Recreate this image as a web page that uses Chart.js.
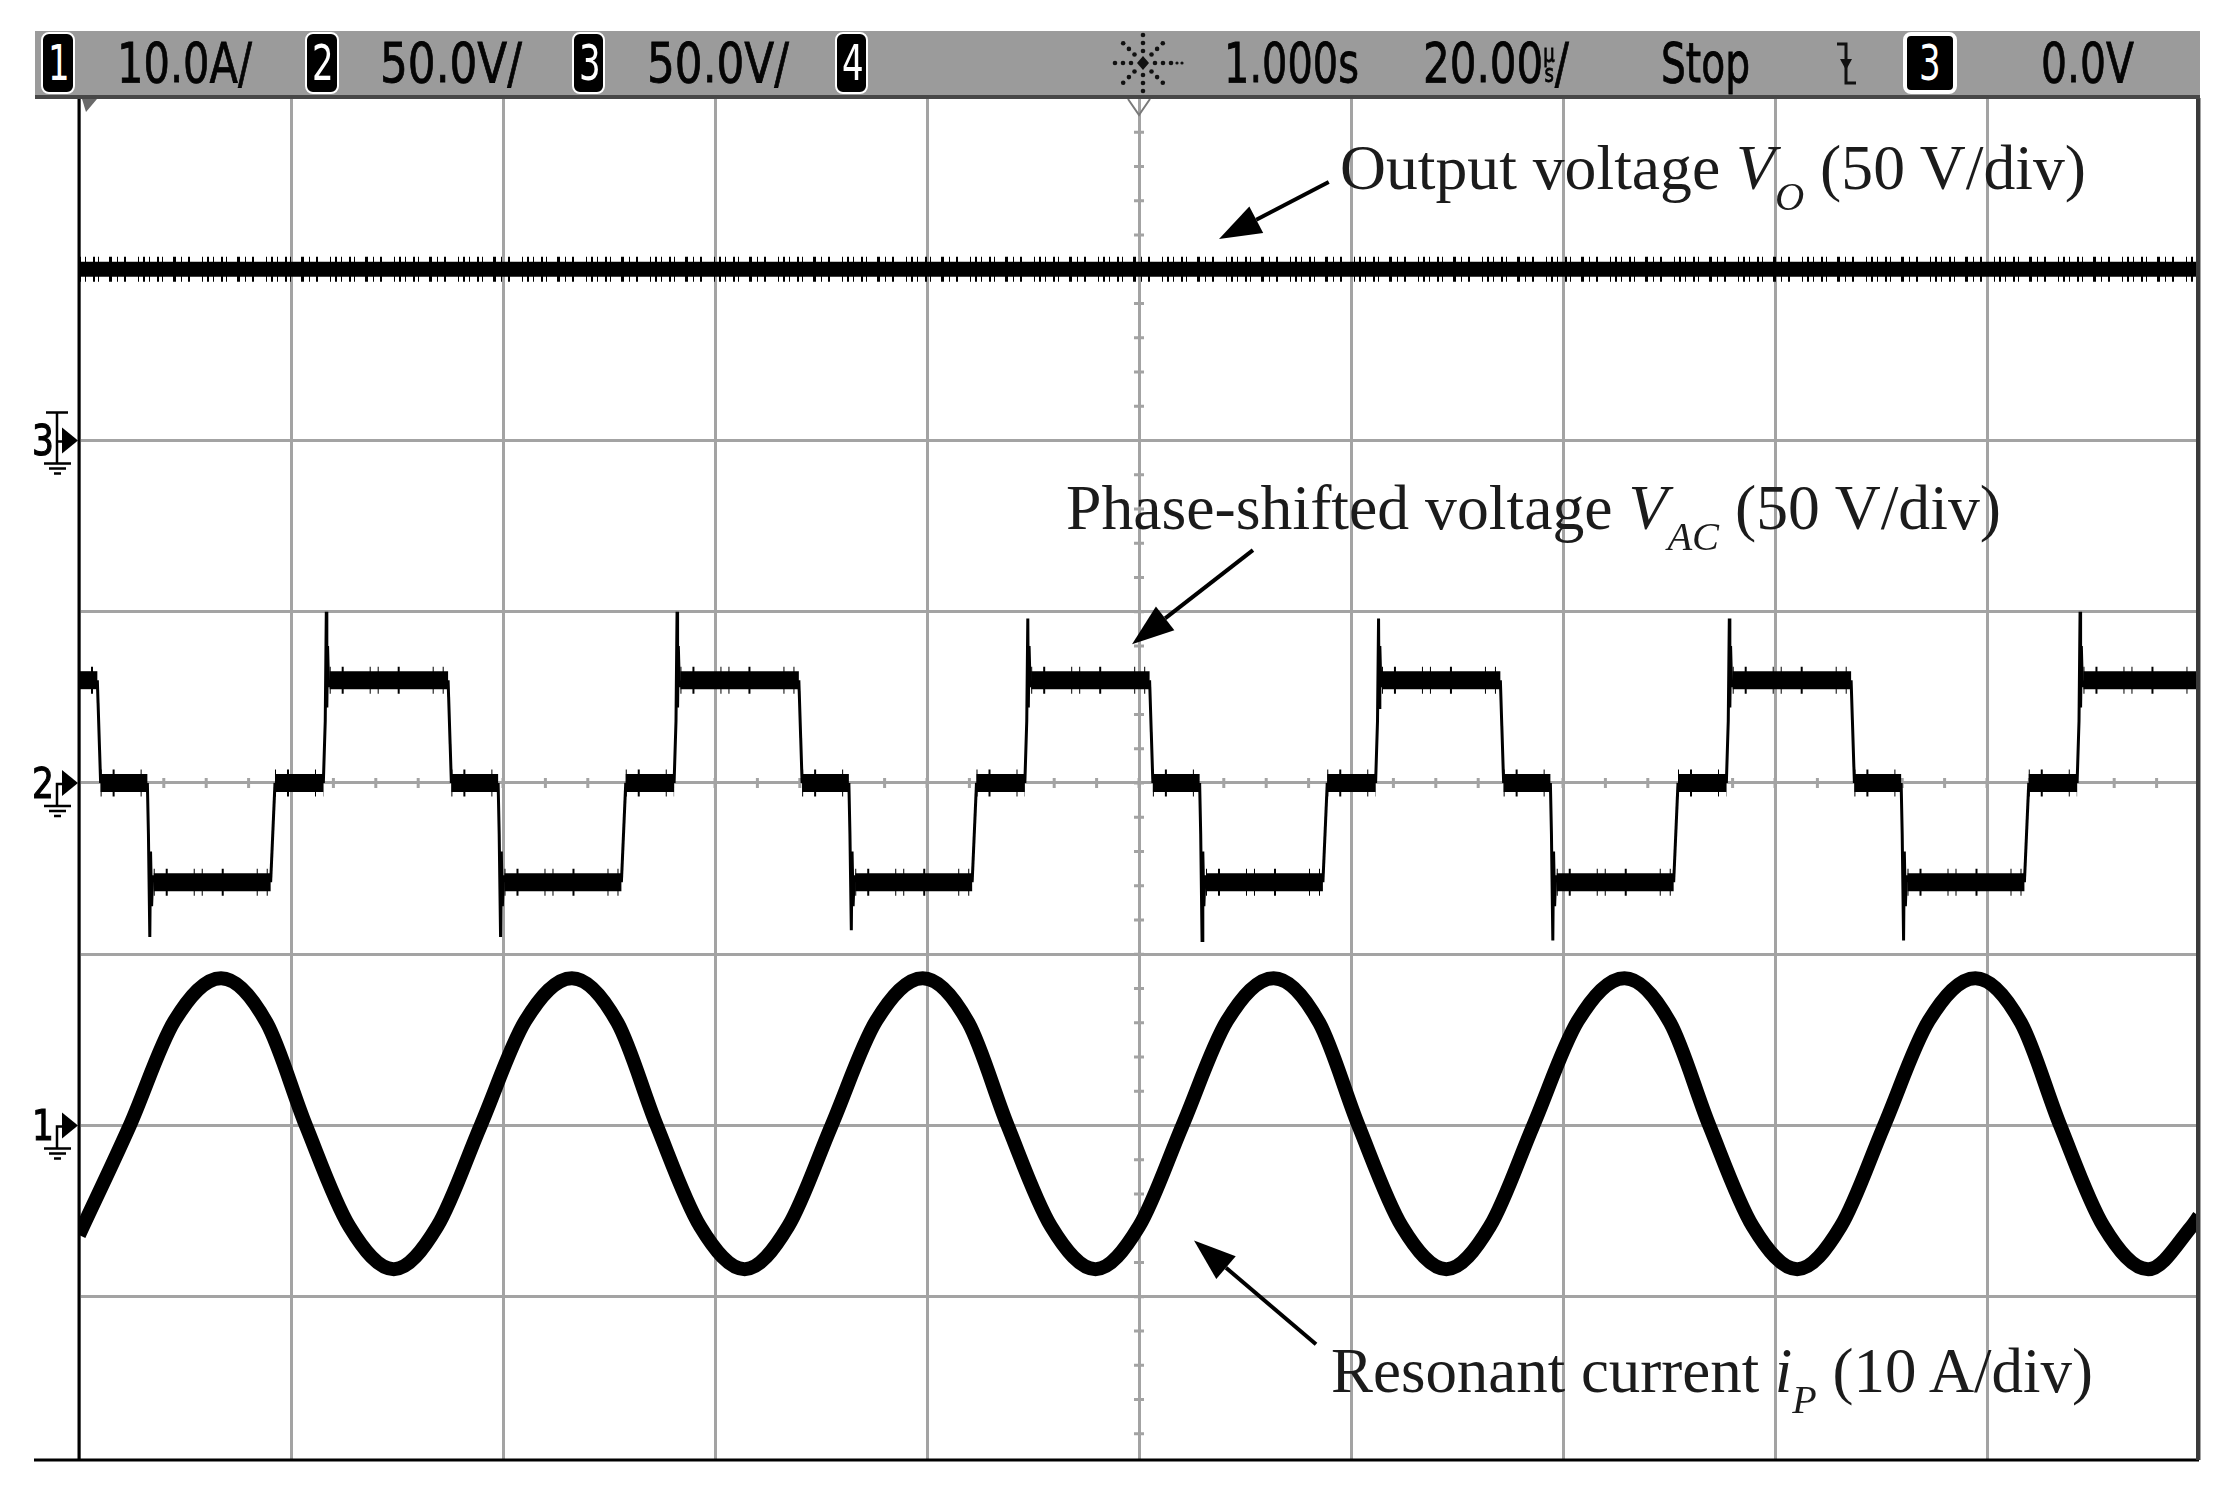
<!DOCTYPE html>
<html>
<head>
<meta charset="utf-8">
<title>Scope capture</title>
<script src="https://cdn.jsdelivr.net/npm/chart.js@4.4.1/dist/chart.umd.min.js"></script>
<style>
  html,body{margin:0;padding:0;background:#fff;}
  #wrap{position:relative;width:2228px;height:1495px;overflow:hidden;background:#fff;}
  #scope{position:absolute;left:0;top:0;}
  #hdr{position:absolute;left:35px;top:31px;width:2165px;height:64px;background:#9b9b9b;border-bottom:4px solid #474747;}
  .ht{position:absolute;font-family:"DejaVu Sans",sans-serif;font-size:56px;line-height:1;color:#050505;white-space:nowrap;transform-origin:0 0;-webkit-text-stroke:0.8px #000;}
  .ht .us{display:inline-block;font-size:24px;line-height:20px;text-align:center;vertical-align:baseline;}
  .ht .us span{display:block;}
  .bx{position:absolute;top:1px;height:58px;background:#000;border:2px solid #fff;border-radius:8px;color:#fff;font-family:"DejaVu Sans",sans-serif;font-size:50px;line-height:58px;text-align:center;overflow:hidden;}
  .bx span{display:inline-block;transform:scaleX(0.68);}
  .note{position:absolute;font-family:"Liberation Serif","Times New Roman",serif;font-size:63px;line-height:1;color:#1b1b1b;white-space:nowrap;transform-origin:0 0;}
  .note i{font-style:italic;}
  .note .sb{font-style:italic;font-size:40px;position:relative;top:21px;}
</style>
</head>
<body>
<div id="wrap">
  <canvas id="scope" width="2228" height="1495"></canvas>
  <div id="hdr"></div>
</div>
<script>
// ---- data (time in us) ----
// Ch3: output voltage Vo (V)
const voTime = [0, 200];
const voVolt = [50, 50];

// Ch2: phase-shifted voltage Vac (V)
const vacTime = [0,
  1.73, 2.04, 6.45, 6.55, 6.68, 6.75, 6.85, 6.95, 7.05, 18.08, 18.49, 23.05, 23.23, 23.33, 23.38, 23.45, 23.55, 23.65,
  34.82, 35.13, 39.54, 39.64, 39.77, 39.84, 39.94, 40.04, 40.14, 51.17, 51.58, 56.14, 56.32, 56.42, 56.47, 56.54, 56.64, 56.74,
  67.91, 68.22, 72.63, 72.73, 72.86, 72.93, 73.03, 73.13, 73.23, 84.26, 84.67, 89.23, 89.41, 89.51, 89.56, 89.63, 89.73, 89.83,
  101.00, 101.31, 105.72, 105.82, 105.95, 106.02, 106.12, 106.22, 106.32, 117.35, 117.76, 122.32, 122.50, 122.60, 122.65, 122.72, 122.82, 122.92,
  134.09, 134.40, 138.81, 138.91, 139.04, 139.11, 139.21, 139.31, 139.41, 150.44, 150.85, 155.41, 155.59, 155.69, 155.74, 155.81, 155.91, 156.01,
  167.18, 167.49, 171.90, 172.00, 172.13, 172.20, 172.30, 172.40, 172.50, 183.53, 183.94, 188.50, 188.68, 188.78, 188.83, 188.90, 189.00, 189.10,
  200];
const vacVolt = [30,
  30, 0, 0, -15, -45, -20, -36, -27, -29, -29, 0, 0, 18, 50, 22, 40, 28, 30,
  30, 0, 0, -15, -45, -20, -36, -27, -29, -29, 0, 0, 18, 50, 22, 40, 28, 30,
  30, 0, 0, -15, -43, -20, -36, -27, -29, -29, 0, 0, 18, 48, 22, 40, 28, 30,
  30, 0, 0, -15, -46, -20, -36, -27, -29, -29, 0, 0, 18, 48, 22, 40, 28, 30,
  30, 0, 0, -15, -46, -20, -36, -27, -29, -29, 0, 0, 18, 48, 22, 40, 28, 30,
  30, 0, 0, -15, -46, -20, -36, -27, -29, -29, 0, 0, 18, 50, 22, 40, 28, 30,
  30];

// Ch1: resonant current ip (A)
const ipTime = [0,
  4.8, 9.0, 13.4, 17.7, 21.4, 25.5, 29.7, 33.8,
  37.9, 42.1, 46.5, 50.8, 54.5, 58.6, 62.8, 66.9,
  71.0, 75.2, 79.6, 83.9, 87.6, 91.7, 95.9, 100.0,
  104.1, 108.3, 112.7, 117.0, 120.7, 124.8, 129.0, 133.1,
  137.2, 141.4, 145.8, 150.1, 153.8, 157.9, 162.1, 166.2,
  170.3, 174.5, 178.9, 183.2, 186.9, 191.0, 195.2, 199.3,
  200];
const ipAmp = [-6.4,
  0, 6.1, 8.6, 6.0, 0, -5.9, -8.4, -5.9,
  0, 6.1, 8.6, 6.0, 0, -5.9, -8.4, -5.9,
  0, 6.1, 8.6, 6.0, 0, -5.9, -8.4, -5.9,
  0, 6.1, 8.6, 6.0, 0, -5.9, -8.4, -5.9,
  0, 6.1, 8.6, 6.0, 0, -5.9, -8.4, -5.9,
  0, 6.1, 8.6, 6.0, 0, -5.9, -8.4, -5.9,
  -5.3];

// graticule: 20 us/div, 50 V/div
const gridTime = [0, 20, 40, 60, 80, 100, 120, 140, 160, 180, 200];
const gridVolt = [-150, -100, -50, 0, 50, 100, 150];

// ---- look ----
const GRID = '#a3a3a3';
const INK = '#000';
const CLEAR = 'rgba(0,0,0,0)';

function pts(xs, ys){ return xs.map((x,i)=>({x:x, y:ys[i]})); }
const flat = c => c.p0.parsed.y === c.p1.parsed.y;

// annotations in (us, ch2 volts)
const notes = [
  {html:'Output voltage <i>V</i><span class="sb">O</span> (50 V/div)', t:118.96, v:173.4, w:746},
  {html:'Phase-shifted voltage <i>V</i><span class="sb">AC</span> (50 V/div)', t:93.1, v:74.1, w:935},
  {html:'Resonant current <i>i</i><span class="sb">P</span> (10 A/div)', t:118.1, v:-177.9, w:762}
];
const arrows = [
  {from:[117.9, 175.5], to:[107.55, 158.8]},
  {from:[110.75, 68.0], to:[99.34, 40.5]},
  {from:[116.7, -163.9], to:[105.19, -133.6]}
];
const chans = [
  {label:'3', axis:'y3', trig:true},
  {label:'2', axis:'y2'},
  {label:'1', axis:'y1'}
];

// ---- canvas extras: minor ticks, frame, channel markers, arrows ----
const scopeDecor = {
  id:'scopeDecor',
  beforeDatasetsDraw(chart){
    const {ctx, scales} = chart;
    const x = scales.x, y = scales.y2;
    const cx = x.getPixelForValue(100), cy = y.getPixelForValue(0);
    ctx.save();
    ctx.strokeStyle = GRID; ctx.lineWidth = 3;
    ctx.beginPath();
    for(let t=4; t<200; t+=4){ const px=x.getPixelForValue(t); ctx.moveTo(px, cy-5); ctx.lineTo(px, cy+5); }
    for(let v=-190; v<200; v+=10){ const py=y.getPixelForValue(v); ctx.moveTo(cx-5, py); ctx.lineTo(cx+5, py); }
    ctx.stroke();
    ctx.restore();
  },
  afterDatasetsDraw(chart){
    const {ctx, chartArea:a, scales} = chart;
    ctx.save();
    // frame
    ctx.strokeStyle = INK; ctx.lineWidth = 3;
    ctx.beginPath();
    ctx.moveTo(a.left, a.top); ctx.lineTo(a.left, a.bottom);
    ctx.moveTo(34, a.bottom); ctx.lineTo(a.right, a.bottom);
    ctx.stroke();
    ctx.strokeStyle = '#3a3a3a'; ctx.lineWidth = 4;
    ctx.beginPath(); ctx.moveTo(a.right-1, a.top); ctx.lineTo(a.right-1, a.bottom); ctx.stroke();
    // trigger position + time reference marks at top
    ctx.fillStyle = '#6a6a6a';
    ctx.beginPath(); ctx.moveTo(a.left+3, a.top+1); ctx.lineTo(a.left+18, a.top+1); ctx.lineTo(a.left+7, a.top+14); ctx.closePath(); ctx.fill();
    const cx = scales.x.getPixelForValue(100);
    ctx.strokeStyle = '#7a7a7a'; ctx.lineWidth = 2;
    ctx.beginPath(); ctx.moveTo(cx-11, a.top+1); ctx.lineTo(cx, a.top+17); ctx.lineTo(cx+11, a.top+1); ctx.stroke();

    // channel ground markers
    ctx.fillStyle = INK; ctx.strokeStyle = INK;
    chans.forEach(c=>{
      const gy = scales[c.axis].getPixelForValue(0);
      const L = a.left;
      ctx.beginPath(); ctx.moveTo(L-1, gy); ctx.lineTo(L-17, gy-13); ctx.lineTo(L-17, gy+13); ctx.closePath(); ctx.fill();
      ctx.lineWidth = 2.5;
      ctx.beginPath();
      ctx.moveTo(L-17, gy+1); ctx.lineTo(L-22, gy+1); ctx.lineTo(L-22, gy+23);
      if(c.trig){ ctx.moveTo(L-22, gy+1); ctx.lineTo(L-22, gy-28); ctx.moveTo(L-33, gy-28); ctx.lineTo(L-11, gy-28); }
      ctx.moveTo(L-35, gy+23); ctx.lineTo(L-8, gy+23);
      ctx.moveTo(L-30, gy+28); ctx.lineTo(L-13, gy+28);
      ctx.moveTo(L-25, gy+33); ctx.lineTo(L-18, gy+33);
      ctx.stroke();
      ctx.save();
      ctx.translate(L-25, gy+15); ctx.scale(0.8, 1);
      ctx.font = '43px "DejaVu Sans"'; ctx.textAlign = 'right'; ctx.textBaseline = 'alphabetic';
      ctx.lineWidth = 1.2; ctx.strokeText(c.label, 0, 0);
      ctx.fillText(c.label, 0, 0);
      ctx.restore();
    });

    // annotation arrows
    const x = scales.x, y = scales.y2;
    arrows.forEach(ar=>{
      const x0 = x.getPixelForValue(ar.from[0]), y0 = y.getPixelForValue(ar.from[1]);
      const x1 = x.getPixelForValue(ar.to[0]), y1 = y.getPixelForValue(ar.to[1]);
      const ang = Math.atan2(y1-y0, x1-x0), hl = 42, hw = 15;
      const bx = x1 - hl*Math.cos(ang), by = y1 - hl*Math.sin(ang);
      ctx.lineWidth = 4;
      ctx.beginPath(); ctx.moveTo(x0, y0); ctx.lineTo(bx, by); ctx.stroke();
      ctx.beginPath();
      ctx.moveTo(x1, y1);
      ctx.lineTo(bx + hw*Math.sin(ang), by - hw*Math.cos(ang));
      ctx.lineTo(bx - hw*Math.sin(ang), by + hw*Math.cos(ang));
      ctx.closePath(); ctx.fill();
    });
    ctx.restore();
  }
};

function fixTicks(list){ return scale => { scale.ticks = list.map(v=>({value:v})); }; }

function makeChart(){
  return new Chart(document.getElementById('scope'), {
    type:'scatter',
    data:{
      datasets:[
        {label:'ip', data:pts(ipTime, ipAmp), yAxisID:'y1', showLine:true, borderColor:INK, borderWidth:14,
         cubicInterpolationMode:'monotone', borderJoinStyle:'round', pointRadius:0, clip:0},
        {label:'Vac', data:pts(vacTime, vacVolt), yAxisID:'y2', showLine:true, borderColor:INK, borderWidth:3,
         tension:0, pointRadius:0, clip:0,
         segment:{ borderWidth: c => flat(c) ? 18 : 3 }},
        // acquisition noise hairs on the flat parts of Vac
        {label:'Vac noise', data:pts(vacTime, vacVolt), yAxisID:'y2', showLine:true, borderWidth:27,
         borderDash:[1,11,2,26,1,7,1,19,2,33,1,9], tension:0, pointRadius:0, clip:0,
         segment:{ borderColor: c => flat(c) ? INK : CLEAR }},
        {label:'Vo', data:pts(voTime, voVolt), yAxisID:'y3', showLine:true, borderColor:INK, borderWidth:15,
         pointRadius:0, clip:0},
        // acquisition noise hairs on Vo
        {label:'Vo noise', data:pts(voTime, voVolt), yAxisID:'y3', showLine:true, borderColor:INK, borderWidth:25,
         borderDash:[2,4,1,7,2,3,1,10,3,5,1,6,2,12,1,4], pointRadius:0, clip:0}
      ]
    },
    options:{
      responsive:false, animation:false, events:[],
      layout:{ padding:{ left:79, right:29, top:98, bottom:35 } },
      plugins:{ legend:{display:false}, tooltip:{enabled:false} },
      scales:{
        x:{ type:'linear', min:0, max:200, afterBuildTicks:fixTicks(gridTime),
            ticks:{display:false}, border:{display:false},
            grid:{color:GRID, lineWidth:3, drawTicks:false} },
        y2:{ type:'linear', position:'left', min:-197.7, max:200, afterBuildTicks:fixTicks(gridVolt),
            ticks:{display:false}, border:{display:false},
            grid:{color:GRID, lineWidth:3, drawTicks:false} },
        y1:{ type:'linear', display:false, min:-19.54, max:60 },
        y3:{ type:'linear', display:false, min:-297.7, max:100 }
      }
    },
    plugins:[scopeDecor]
  });
}

// put text so its baseline lands at `base`, stretched to width w
function placeText(el, left, base, w){
  const probe = document.createElement('span');
  probe.style.cssText = 'display:inline-block;width:0;height:0;vertical-align:baseline';
  el.appendChild(probe);
  el.style.left = left + 'px'; el.style.top = '0px';
  const off = probe.offsetTop;
  el.removeChild(probe);
  el.style.top = (base - off) + 'px';
  if(w){ const nat = el.getBoundingClientRect().width; el.style.transform = 'scaleX(' + (w/nat).toFixed(4) + ')'; }
}

// ---- scope status bar ----
const hdrItems = [
  {kind:'box', label:'1', x:41, w:30},
  {kind:'txt', html:'10.0A/', x:117, w:135},
  {kind:'box', label:'2', x:305, w:30},
  {kind:'txt', html:'50.0V/', x:380, w:142},
  {kind:'box', label:'3', x:572, w:29},
  {kind:'txt', html:'50.0V/', x:647, w:142},
  {kind:'box', label:'4', x:835, w:29},
  {kind:'txt', html:'1.000s', x:1224, w:135},
  {kind:'txt', html:'20.00<span class="us"><span>µ</span><span>s</span></span>/', x:1423, w:146},
  {kind:'txt', html:'Stop', x:1661, w:89},
  {kind:'box', label:'3', x:1903, w:46, ring:4},
  {kind:'txt', html:'0.0V', x:2041, w:93}
];

function buildHeader(){
  const hdr = document.getElementById('hdr');
  const X0 = 35;
  hdrItems.forEach(it=>{
    const el = document.createElement('div');
    if(it.kind==='box'){
      el.className = 'bx';
      el.style.left = (it.x - X0) + 'px';
      el.style.width = it.w + 'px';
      if(it.ring){ el.style.borderWidth = it.ring+'px'; el.style.height = (62-2*it.ring)+'px'; el.style.lineHeight = (62-2*it.ring)+'px'; }
      el.innerHTML = '<span>' + it.label + '</span>';
      hdr.appendChild(el);
    } else {
      el.className = 'ht';
      el.innerHTML = it.html;
      hdr.appendChild(el);
      placeText(el, it.x - X0, 51, it.w);
    }
  });
  // acquisition "burst" icon
  let dots = '';
  for(let k=0;k<8;k++){
    const a = k*Math.PI/4;
    [12,20,28].forEach(r=>{ dots += '<circle cx="'+(36+r*Math.cos(a)).toFixed(1)+'" cy="'+(32+r*Math.sin(a)).toFixed(1)+'" r="2.3"/>'; });
  }
  const star = document.createElement('div');
  star.style.cssText = 'position:absolute;left:1072px;top:0;width:80px;height:64px';
  star.innerHTML = '<svg width="80" height="64" fill="#111">' + dots +
    '<polygon points="36,25 42,32 36,39 30,32"/><circle cx="70" cy="32" r="1.6"/><circle cx="75" cy="32" r="1.6"/></svg>';
  hdr.appendChild(star);
  // falling-edge trigger glyph
  const trg = document.createElement('div');
  trg.style.cssText = 'position:absolute;left:1800px;top:11px;width:24px;height:44px';
  trg.innerHTML = '<svg width="24" height="44"><path d="M2 2 H11 V41 H21" stroke="#111" stroke-width="3" fill="none"/>' +
    '<polygon points="5,17 17,17 11,28" fill="#111"/></svg>';
  hdr.appendChild(trg);
}

function placeNotes(chart){
  const wrap = document.getElementById('wrap');
  const x = chart.scales.x, y = chart.scales.y2;
  notes.forEach(n=>{
    const el = document.createElement('div');
    el.className = 'note';
    el.innerHTML = n.html;
    wrap.appendChild(el);
    placeText(el, x.getPixelForValue(n.t), y.getPixelForValue(n.v), n.w);
  });
}

document.fonts.ready.then(()=>{
  const chart = makeChart();
  buildHeader();
  placeNotes(chart);
});
</script>
</body>
</html>
